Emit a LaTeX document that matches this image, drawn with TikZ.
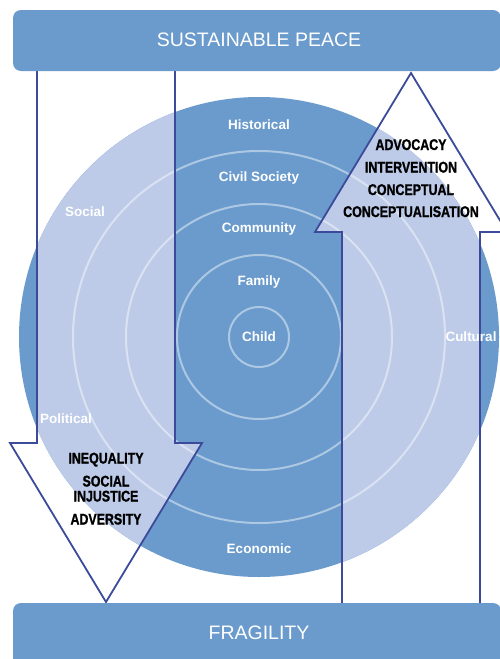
\documentclass[tikz,border=0pt]{standalone}
\usepackage{fontspec}
\setmainfont{Liberation Sans}
\newfontfamily\condfont[FakeStretch=0.80,FakeBold=1.2]{Liberation Sans}
\definecolor{midblue}{HTML}{6A9BCC}
\definecolor{lightblue}{HTML}{BDCBE9}
\definecolor{navy}{HTML}{3C4A9A}
\begin{document}
\begin{tikzpicture}[x=1pt,y=-1pt,
  banner/.style={fill=midblue, rounded corners=8pt},
  bannertext/.style={text=white, font=\fontsize{19.5}{20}\selectfont},
  ringlabel/.style={text=white, font=\bfseries\fontsize{13.5}{14}\selectfont},
  arrowtext/.style={text=black, font=\condfont\bfseries\fontsize{15.5}{16}\selectfont, anchor=base, inner sep=0pt},
  ringline/.style={draw=white, draw opacity=0.45, line width=2pt},
  arrowline/.style={draw=navy, line width=1.8pt, line join=miter}]
\useasboundingbox (0,0) rectangle (500,659);
\fill[white] (0,0) rectangle (500,659);
% big circle
\fill[midblue] (259,337) circle[radius=240pt];
% light parts inside arrows
\begin{scope}
  \clip (37,60) -- (37,443) -- (10,443) -- (106,602) -- (202,443) -- (175,443) -- (175,60) -- cycle;
  \fill[lightblue] (259,337) circle[radius=240pt];
\end{scope}
\begin{scope}
  \clip (342,620) -- (342,232) -- (315,232) -- (411,73) -- (507,232) -- (480,232) -- (480,620) -- cycle;
  \fill[lightblue] (259,337) circle[radius=240pt];
\end{scope}
% rings
\foreach \r in {30,82,133,186} {
  \draw[ringline] (259,337) circle[radius=\r pt];
}
% arrow outlines
\draw[arrowline] (37,60) -- (37,443) -- (10,443) -- (106,602) -- (202,443) -- (175,443) -- (175,60);
\draw[arrowline] (342,620) -- (342,232) -- (315,232) -- (411,73) -- (507,232) -- (480,232) -- (480,620);
% banners
\fill[banner] (13,10) rectangle (501,71);
\fill[banner] (13,603) rectangle (501,690);
\node[bannertext] (peace) at (259,40) {SUSTAINABLE PEACE};
\node[bannertext] (fragility) at (259,633) {FRAGILITY};
% ring labels
\node[ringlabel] (historical) at (259,125) {Historical};
\node[ringlabel] (civil) at (259,178) {Civil Society};
\node[ringlabel] (community) at (259,229) {Community};
\node[ringlabel] (family) at (259,282) {Family};
\node[ringlabel] (child) at (259,337) {Child};
\node[ringlabel] (social) at (85,212) {Social};
\node[ringlabel] (political) at (66,419) {Political};
\node[ringlabel] (cultural) at (471,337) {Cultural};
\node[ringlabel] (economic) at (259,549) {Economic};
% arrow texts
\node[arrowtext] (ineq) at (106,463.5) {INEQUALITY};
\node[arrowtext] (soc) at (106,486.5) {SOCIAL};
\node[arrowtext] (inj) at (106,501.5) {INJUSTICE};
\node[arrowtext] (adv) at (106,524.5) {ADVERSITY};
\node[arrowtext] (advoc) at (411,150) {ADVOCACY};
\node[arrowtext] (interv) at (411,172.5) {INTERVENTION};
\node[arrowtext] (concept) at (411,195) {CONCEPTUAL};
\node[arrowtext] (conceptual) at (411,217) {CONCEPTUALISATION};
\end{tikzpicture}
\end{document}
